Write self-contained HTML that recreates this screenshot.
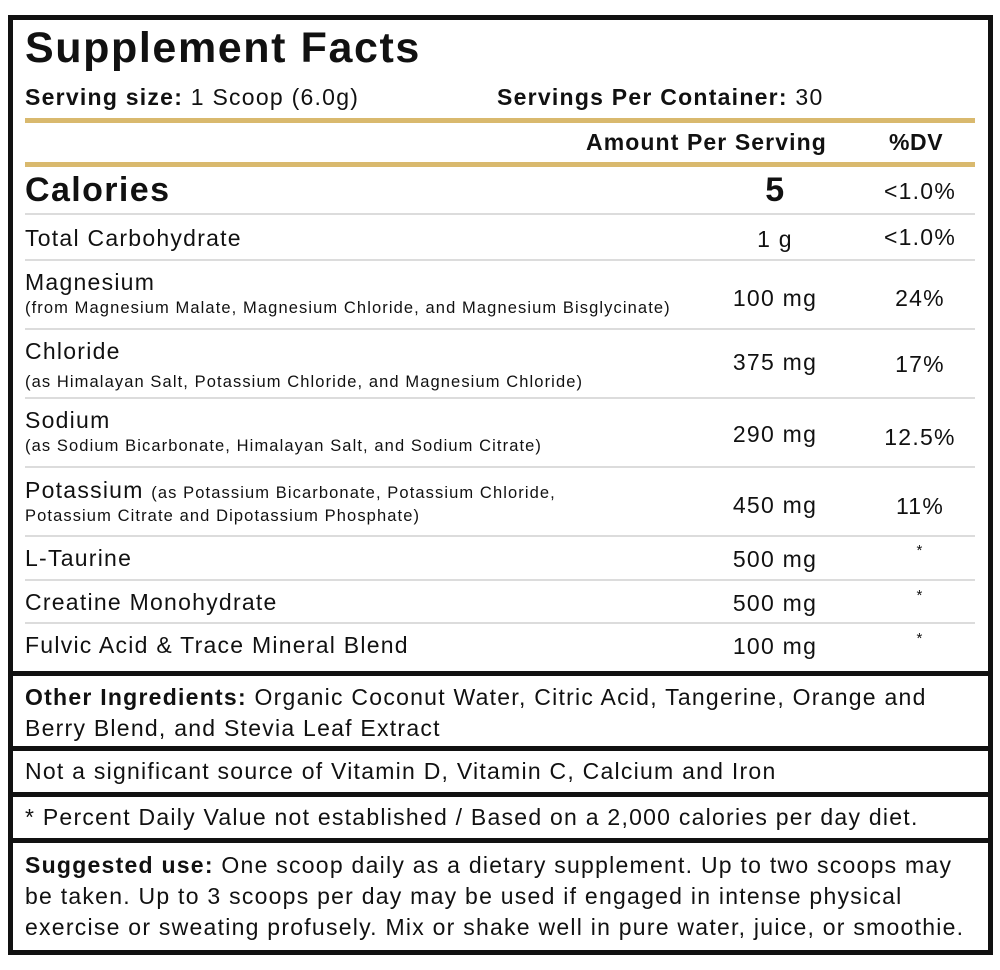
<!DOCTYPE html>
<html><head><meta charset="utf-8"><style>
html,body{margin:0;padding:0;background:#fff;}
body{width:1000px;height:970px;position:relative;overflow:hidden;font-family:"Liberation Sans",sans-serif;color:#111;}
.a{position:absolute;white-space:nowrap;}
.t{font-size:23px;letter-spacing:1.25px;}
.s{font-size:16.5px;letter-spacing:1.1px;}
.b{font-weight:bold;letter-spacing:0.6px;}
.gold{position:absolute;left:25px;width:950px;height:5px;background:#d9b96e;}
.gray{position:absolute;left:25px;width:950px;height:2px;background:#dcdcdc;}
.blk{position:absolute;left:8px;width:985px;height:5px;background:#111;}
.c{text-align:center;}
</style></head><body>
<div style="position:absolute;left:8px;top:15px;width:975px;height:930px;border:5px solid #111;"></div>
<div class="a b" style="left:25px;top:24px;font-size:43px;letter-spacing:1.6px;">Supplement Facts</div>
<div class="a t" style="left:25px;top:84px;"><b>Serving size:</b> 1 Scoop (6.0g)</div>
<div class="a t" style="left:497px;top:84px;"><b>Servings Per Container:</b> 30</div>
<div class="gold" style="top:118px;"></div>
<div class="a t b" style="left:586px;top:129px;letter-spacing:1.1px;">Amount Per Serving</div>
<div class="a t b" style="left:889px;top:129px;">%DV</div>
<div class="gold" style="top:162px;"></div>
<div class="a b" style="left:25px;top:171px;font-size:34px;letter-spacing:1.4px;">Calories</div>
<div class="a b c" style="left:740px;width:70px;top:171px;font-size:34px;">5</div>
<div class="a t c" style="left:870px;width:100px;top:178px;">&lt;1.0%</div>
<div class="gray" style="top:213px;"></div>
<div class="a t" style="left:25px;top:225px;">Total Carbohydrate</div>
<div class="a t c" style="left:720px;width:110px;top:226px;">1 g</div>
<div class="a t c" style="left:870px;width:100px;top:224px;">&lt;1.0%</div>
<div class="gray" style="top:259px;"></div>
<div class="a t" style="left:25px;top:269px;">Magnesium</div>
<div class="a s" style="left:25px;top:299px;">(from Magnesium Malate, Magnesium Chloride, and Magnesium Bisglycinate)</div>
<div class="a t c" style="left:720px;width:110px;top:285px;">100 mg</div>
<div class="a t c" style="left:870px;width:100px;top:285px;">24%</div>
<div class="gray" style="top:328px;"></div>
<div class="a t" style="left:25px;top:338px;">Chloride</div>
<div class="a s" style="left:25px;top:373px;">(as Himalayan Salt, Potassium Chloride, and Magnesium Chloride)</div>
<div class="a t c" style="left:720px;width:110px;top:349px;">375 mg</div>
<div class="a t c" style="left:870px;width:100px;top:351px;">17%</div>
<div class="gray" style="top:397px;"></div>
<div class="a t" style="left:25px;top:407px;">Sodium</div>
<div class="a s" style="left:25px;top:437px;">(as Sodium Bicarbonate, Himalayan Salt, and Sodium Citrate)</div>
<div class="a t c" style="left:720px;width:110px;top:421px;">290 mg</div>
<div class="a t c" style="left:870px;width:100px;top:424px;">12.5%</div>
<div class="gray" style="top:466px;"></div>
<div class="a t" style="left:25px;top:477px;">Potassium <span class="s">(as Potassium Bicarbonate, Potassium Chloride,</span></div>
<div class="a s" style="left:25px;top:507px;">Potassium Citrate and Dipotassium Phosphate)</div>
<div class="a t c" style="left:720px;width:110px;top:492px;">450 mg</div>
<div class="a t c" style="left:870px;width:100px;top:493px;">11%</div>
<div class="gray" style="top:535px;"></div>
<div class="a t" style="left:25px;top:545px;">L-Taurine</div>
<div class="a t c" style="left:720px;width:110px;top:546px;">500 mg</div>
<div class="a t c" style="left:870px;width:100px;top:542px;font-size:15px;">*</div>
<div class="gray" style="top:579px;"></div>
<div class="a t" style="left:25px;top:589px;">Creatine Monohydrate</div>
<div class="a t c" style="left:720px;width:110px;top:590px;">500 mg</div>
<div class="a t c" style="left:870px;width:100px;top:587px;font-size:15px;">*</div>
<div class="gray" style="top:622px;"></div>
<div class="a t" style="left:25px;top:632px;">Fulvic Acid &amp; Trace Mineral Blend</div>
<div class="a t c" style="left:720px;width:110px;top:633px;">100 mg</div>
<div class="a t c" style="left:870px;width:100px;top:630px;font-size:15px;">*</div>
<div class="blk" style="top:671px;"></div>
<div class="a t" style="left:25px;top:682px;line-height:31px;"><b>Other Ingredients:</b> Organic Coconut Water, Citric Acid, Tangerine, Orange and<br>Berry Blend, and Stevia Leaf Extract</div>
<div class="blk" style="top:746px;"></div>
<div class="a t" style="left:25px;top:758px;">Not a significant source of Vitamin D, Vitamin C, Calcium and Iron</div>
<div class="blk" style="top:792px;"></div>
<div class="a t" style="left:25px;top:804px;">* Percent Daily Value not established / Based on a 2,000 calories per day diet.</div>
<div class="blk" style="top:838px;"></div>
<div class="a t" style="left:25px;top:850px;line-height:31px;"><b>Suggested use:</b> One scoop daily as a dietary supplement. Up to two scoops may<br>be taken. Up to 3 scoops per day may be used if engaged in intense physical<br>exercise or sweating profusely. Mix or shake well in pure water, juice, or smoothie.</div>
</body></html>
